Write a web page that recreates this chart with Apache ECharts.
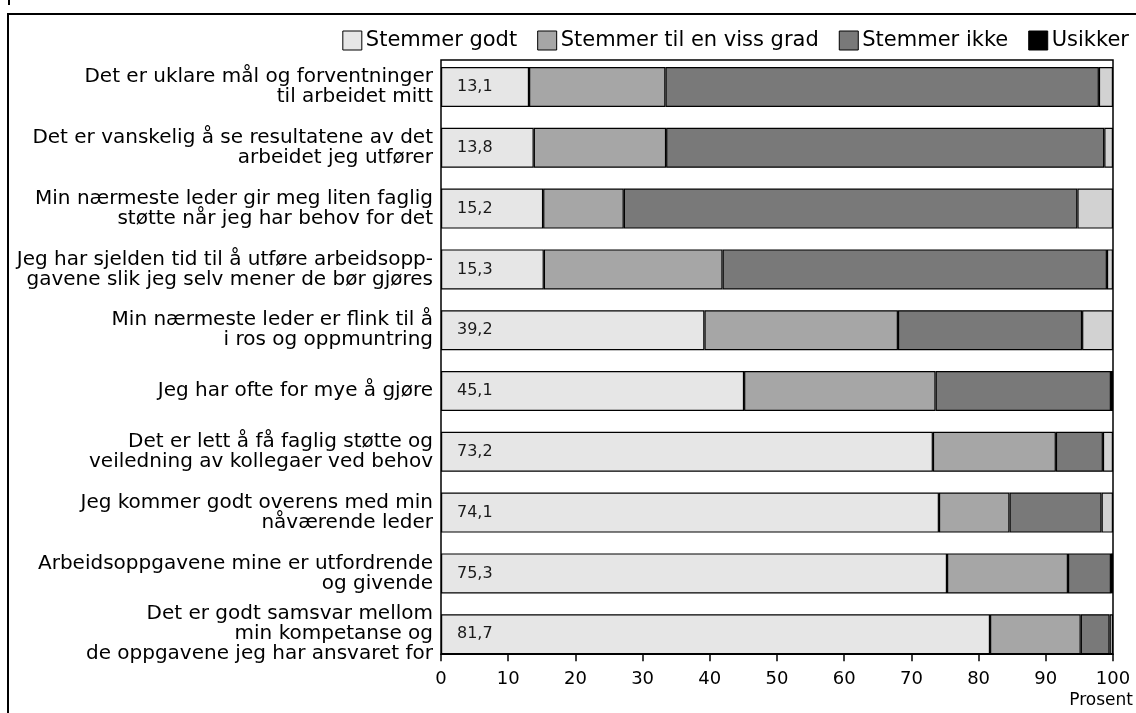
<!DOCTYPE html>
<html>
<head>
<meta charset="utf-8">
<script src="https://cdn.jsdelivr.net/npm/echarts@6/dist/echarts.min.js"></script>
<style>
  html, body { margin: 0; padding: 0; background: #fff; }
  #chart { width: 1136px; height: 713px; }
</style>
</head>
<body>
<div id="chart"></div>
<script>
// Statements, top to bottom
const categories = [
  'Det er uklare mål og forventninger\ntil arbeidet mitt',
  'Det er vanskelig å se resultatene av det\narbeidet jeg utfører',
  'Min nærmeste leder gir meg liten faglig\nstøtte når jeg har behov for det',
  'Jeg har sjelden tid til å utføre arbeidsopp-\ngavene slik jeg selv mener de bør gjøres',
  'Min nærmeste leder er flink til å\ni ros og oppmuntring',
  'Jeg har ofte for mye å gjøre',
  'Det er lett å få faglig støtte og\nveiledning av kollegaer ved behov',
  'Jeg kommer godt overens med min\nnåværende leder',
  'Arbeidsoppgavene mine er utfordrende\nog givende',
  'Det er godt samsvar mellom\nmin kompetanse og\nde oppgavene jeg har ansvaret for'
];

// Share of answers, percent
const stemmerGodt   = [13.1, 13.8, 15.2, 15.3, 39.2, 45.1, 73.2, 74.1, 75.3, 81.7];
const stemmerViss   = [20.3, 19.7, 12.0, 26.6, 28.8, 28.5, 18.3, 10.5, 18.0, 13.5];
const stemmerIkke   = [64.5, 65.2, 67.5, 57.2, 27.4, 26.1,  7.0, 13.7,  6.4,  4.3];
const usikker       = [ 2.1,  1.3,  5.3,  0.9,  4.6,  0.3,  1.5,  1.7,  0.3,  0.5];

const seriesNames = ['Stemmer godt', 'Stemmer til en viss grad', 'Stemmer ikke', 'Usikker'];
const xTicks = { min: 0, max: 100, interval: 10 };

const FONT = '"DejaVu Sans", "Open Sans", sans-serif';
const BAR_H = 40;

const chart = echarts.init(document.getElementById('chart'), null, { renderer: 'canvas' });

function barSeries(name, data, color, withLabel) {
  return {
    name: name,
    type: 'bar',
    stack: 'total',
    data: data,
    barWidth: BAR_H,
    itemStyle: { color: color, borderColor: '#000', borderWidth: 1.2 },
    emphasis: { disabled: true },
    label: withLabel ? {
      show: true,
      position: 'insideLeft',
      distance: 16,
      color: '#1a1a1a',
      fontFamily: FONT,
      fontSize: 16,
      formatter: p => p.value.toFixed(1).replace('.', ',')
    } : { show: false }
  };
}

const option = {
  animation: false,
  backgroundColor: '#fff',
  textStyle: { fontFamily: FONT },
  legend: {
    right: 2,
    top: 25,
    itemWidth: 19,
    itemHeight: 19,
    itemGap: 20,
    icon: 'rect',
    textStyle: { fontFamily: FONT, fontSize: 21, color: '#000', padding: [0, 0, 0, -1] },
    itemStyle: { borderColor: '#000', borderWidth: 1 },
    data: [
      { name: seriesNames[0] },
      { name: seriesNames[1] },
      { name: seriesNames[2] },
      { name: seriesNames[3], itemStyle: { color: '#000' } }
    ]
  },
  grid: { left: 441, right: 23, top: 56.6, height: 608, containLabel: false },
  xAxis: {
    type: 'value',
    min: xTicks.min,
    max: xTicks.max,
    interval: xTicks.interval,
    offset: -10.4,
    axisLine: { show: true, lineStyle: { color: '#000', width: 1.5 } },
    axisTick: { show: true, length: 7, lineStyle: { color: '#000', width: 1.5 } },
    axisLabel: { color: '#000', fontSize: 18, fontFamily: FONT, margin: 16 },
    splitLine: { show: false }
  },
  yAxis: {
    type: 'category',
    data: categories,
    inverse: true,
    axisLine: { show: false },
    axisTick: { show: false },
    axisLabel: {
      color: '#000',
      fontSize: 20,
      lineHeight: 20,
      fontFamily: FONT,
      margin: 8,
      align: 'right'
    }
  },
  series: [
    barSeries(seriesNames[0], stemmerGodt, '#e6e6e6', true),
    barSeries(seriesNames[1], stemmerViss, '#a6a6a6', false),
    barSeries(seriesNames[2], stemmerIkke, '#797979', false),
    barSeries(seriesNames[3], usikker, '#d2d2d2', false)
  ]
};

chart.setOption(option);

// Frame around the plot, outer page border and the axis unit
const x0 = chart.convertToPixel({ xAxisIndex: 0 }, xTicks.min);
const x1 = chart.convertToPixel({ xAxisIndex: 0 }, xTicks.max);
const firstCenter = chart.convertToPixel({ yAxisIndex: 0 }, 0);
const lastCenter = chart.convertToPixel({ yAxisIndex: 0 }, categories.length - 1);
const frameTop = firstCenter - BAR_H / 2 - 7;
const frameBottom = lastCenter + BAR_H / 2;

chart.setOption({
  graphic: [
    {
      type: 'rect', silent: true, z: 10,
      shape: { x: x0, y: frameTop, width: x1 - x0, height: frameBottom - frameTop },
      style: { fill: null, stroke: '#000', lineWidth: 1.5 }
    },
    {
      type: 'polyline', silent: true,
      shape: { points: [[1136, 14], [8, 14], [8, 713]] },
      style: { fill: null, stroke: '#000', lineWidth: 2 }
    },
    {
      type: 'line', silent: true,
      shape: { x1: 9, y1: 0, x2: 9, y2: 5 },
      style: { stroke: '#000', lineWidth: 2 }
    },
    {
      type: 'text', silent: true,
      right: 3, top: 692,
      style: { text: 'Prosent', font: '17px ' + FONT, fill: '#000' }
    }
  ]
});
</script>
</body>
</html>
